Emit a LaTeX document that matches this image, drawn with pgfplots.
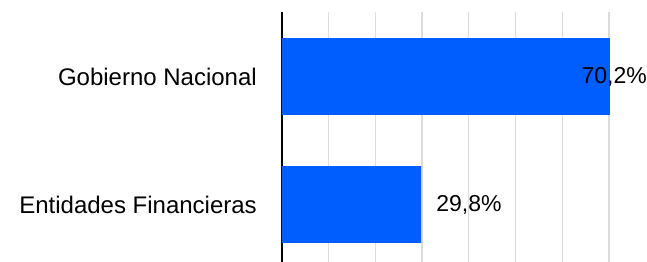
\documentclass[border=0pt]{standalone}
\usepackage{fontspec}
\setmainfont{Liberation Sans}
\usepackage{pgfplots}
\pgfplotsset{compat=1.18}
\definecolor{barblue}{HTML}{005EFF}
\definecolor{gridgray}{HTML}{DCDCDC}
\begin{document}
\begin{tikzpicture}
\begin{axis}[
  scale only axis,
  width=365bp, height=250bp,
  xbar, bar width=0.6,
  xmin=0, xmax=78.15,
  ymin=-0.449, ymax=1.504,
  axis line style={draw=none},
  xtick={10,20,...,70},
  xticklabels={},
  xmajorgrids,
  grid style={gridgray, line width=1.3bp},
  extra x ticks={0},
  extra x tick labels={},
  extra x tick style={grid style={black, line width=1.4bp}},
  major tick length=0pt,
  ytick={0,1},
  yticklabels={Entidades Financieras, Gobierno Nacional},
  yticklabel style={font=\fontsize{24bp}{28bp}\selectfont, inner sep=0pt, xshift=-25bp},
  clip=false,
]
\addplot[fill=barblue, draw=none] coordinates {(29.8,0) (70.2,1)};
\node[anchor=west, inner sep=0pt, font=\fontsize{23bp}{27bp}\selectfont] at (axis cs:29.8,0) [xshift=15bp] {29,8\%};
\node[anchor=east, inner sep=0pt, font=\fontsize{23bp}{27bp}\selectfont] at (axis cs:78.15,1) {70,2\%};
\end{axis}
\pgfresetboundingbox
\path (current axis.south west) ++(-282bp,0) rectangle ++(647bp,262bp);
\end{tikzpicture}
\end{document}
